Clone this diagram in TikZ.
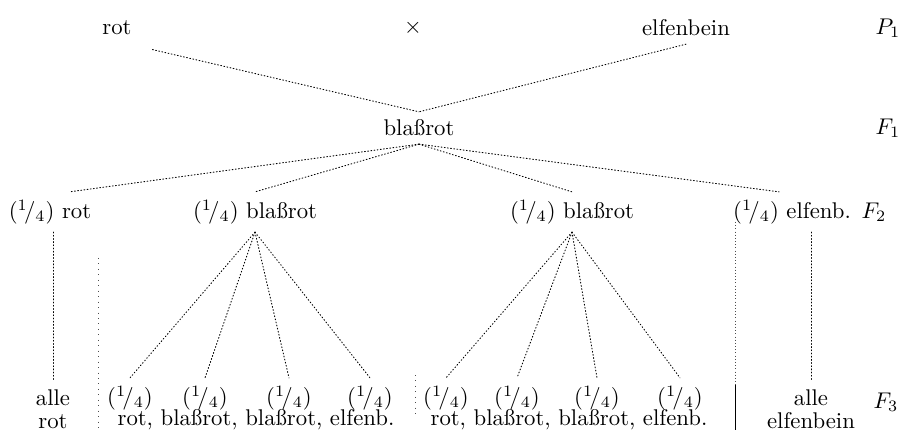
\documentclass[tikz,border=0pt]{standalone}
\usetikzlibrary{positioning}
\begin{document}
\begin{tikzpicture}[x=0.44pt,y=-0.44pt,
    gen/.style={densely dotted, line cap=round},
    sep/.style={densely dotted, black!70}]
    \useasboundingbox (0,0) rectangle (917,430);

    % generations
    \node (p1) at (888,28) {$P_1$};
    \node (f1lab) at (888,128) {$F_1$};
    \node (f2lab) at (874,212) {$F_2$};
    \node (f3lab) at (886,402) {$F_3$};

    % P1
    \node (rot) at (117,28) {rot};
    \node (cross) at (413,28) {$\times$};
    \node (elf) at (686,28) {elfenbein};

    % F1
    \node (f1) at (419,128) {bla\ss rot};
    \draw[gen] ([xshift=2mm,yshift=-1mm]rot.south east) -- (f1.north);
    \draw[gen] (elf.south) -- (f1.north);

    % F2
    \node (a) at (50,212) {$({}^1\!/_4)$ rot};
    \node (b) at (255,212) {$({}^1\!/_4)$ bla\ss rot};
    \node (c) at (572,212) {$({}^1\!/_4)$ bla\ss rot};
    \node (d) at (792,212) {$({}^1\!/_4)$ elfenb.};
    \draw[gen] (f1.south) -- ([xshift=3mm]a.north);
    \draw[gen] (f1.south) -- (b.north);
    \draw[gen] (f1.south) -- (c.north);
    \draw[gen] (f1.south) -- ([xshift=-2mm]d.north);

    % F3
    \node[align=center] (alle1) at (53,409) {alle\\[-2pt]rot};
    \node[align=center] (alle2) at (811,409) {alle\\[-2pt]elfenbein};
    \draw[gen] (alle1.north |- a.south) -- (alle1.north);
    \draw[gen] (alle2.north |- d.south) -- (alle2.north);

    \node (q11) at (130,398) {$({}^1\!/_4)$};
    \node (q12) at (205,398) {$({}^1\!/_4)$};
    \node (q13) at (289,398) {$({}^1\!/_4)$};
    \node (q14) at (370,398) {$({}^1\!/_4)$};
    \node (r1) at (256,420) {rot, bla\ss rot, bla\ss rot, elfenb.};

    \node (q21) at (446,398) {$({}^1\!/_4)$};
    \node (q22) at (517,398) {$({}^1\!/_4)$};
    \node (q23) at (597,398) {$({}^1\!/_4)$};
    \node (q24) at (680,398) {$({}^1\!/_4)$};
    \node (r2) at (569,420) {rot, bla\ss rot, bla\ss rot, elfenb.};

    \foreach \i in {1,...,4} {
        \draw[gen] (b.south) -- (q1\i.north);
        \draw[gen] (c.south) -- (q2\i.north);
    }

    % separators
    \coordinate (s1t) at (98,258);
    \coordinate (s1b) at (98,430);
    \coordinate (s2t) at (415,375);
    \coordinate (s2b) at (415,418);
    \coordinate (s3t) at (735,222);
    \coordinate (s3m) at (735,385);
    \coordinate (s3b) at (735,430);
    \draw[sep, dotted] (s1t) -- (s1b);
    \draw[sep, dotted] (s2t) -- (s2b);
    \draw[sep] (s3t) -- (s3m);
    \draw (s3m) -- (s3b);
\end{tikzpicture}
\end{document}
